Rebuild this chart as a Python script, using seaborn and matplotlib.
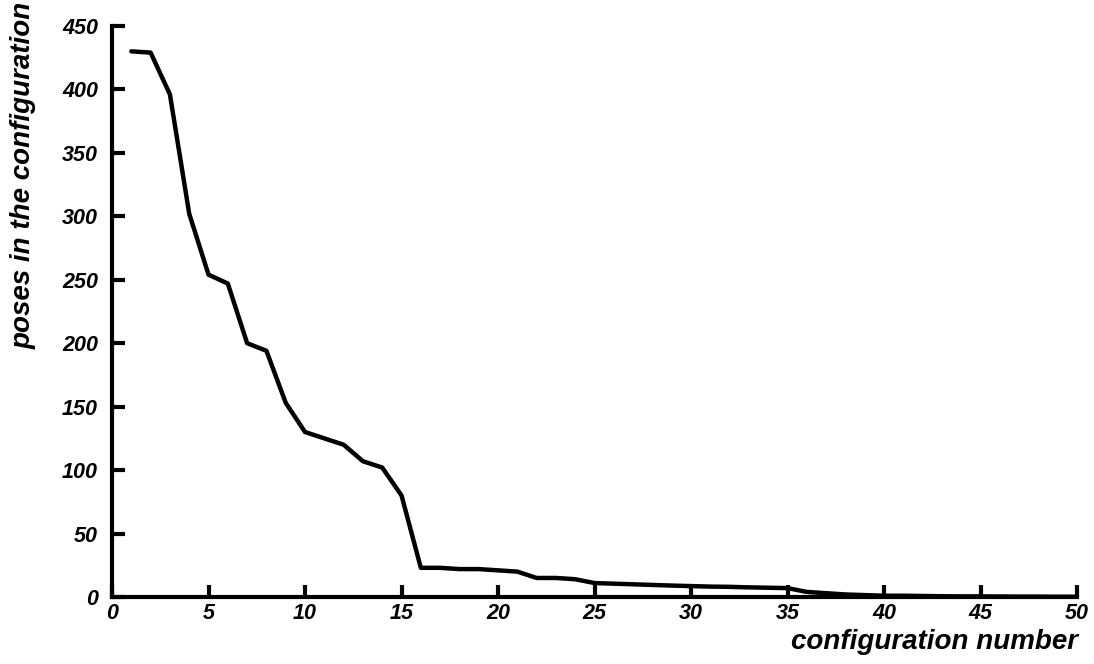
import matplotlib
matplotlib.use("Agg")
import matplotlib.pyplot as plt
import seaborn as sns
import pandas as pd

config_number = list(range(1, 51))
poses = [430, 429, 396, 302, 254, 247, 200, 194, 153, 130,
         125, 120, 107, 102, 80, 23, 23, 22, 22, 21,
         20, 15, 15, 14, 11, 10.5, 10, 9.5, 9, 8.6,
         8.2, 8, 7.6, 7.3, 7, 4, 3, 2, 1.5, 1,
         1, 0.8, 0.6, 0.5, 0.5, 0.4, 0.3, 0.3, 0.2, 0.2]
x_ticks = [0, 5, 10, 15, 20, 25, 30, 35, 40, 45, 50]
y_ticks = [0, 50, 100, 150, 200, 250, 300, 350, 400, 450]

sns.set_style("white", {"xtick.bottom": True, "ytick.left": True,
                        "text.color": "black", "xtick.color": "black",
                        "ytick.color": "black", "axes.labelcolor": "black"})
plt.rcParams['font.family'] = ['Liberation Sans', 'DejaVu Sans']

df = pd.DataFrame({"config": config_number, "poses": poses})

fig = plt.figure(figsize=(10.94, 6.64), dpi=100)
ax = fig.add_axes([0.1024, 0.1009, 0.8821, 0.8600])
sns.lineplot(data=df, x="config", y="poses", ax=ax, color="black", linewidth=3.2)

ax.set_xlim(0, 50)
ax.set_ylim(0, 450)
ax.set_xticks(x_ticks)
ax.set_yticks(y_ticks)
ax.set_xticklabels([str(t) for t in x_ticks], fontsize=15.5, fontweight='bold', fontstyle='italic')
ax.set_yticklabels([str(t) for t in y_ticks], fontsize=15.5, fontweight='bold', fontstyle='italic')
ax.tick_params(direction='in', length=9, width=3, color='black', labelcolor='black')
ax.tick_params(axis='y', pad=10)
ax.tick_params(axis='x', pad=4)

for s in ['top', 'right']:
    ax.spines[s].set_visible(False)
for s in ['left', 'bottom']:
    ax.spines[s].set_linewidth(3)
    ax.spines[s].set_color('black')

ax.set_xlabel("")
ax.set_ylabel("")
fig.text(0.985, 0.022, "configuration number", ha='right', va='baseline',
         fontsize=20, fontweight='bold', fontstyle='italic', color='black')
fig.text(0.022, 0.998, "poses in the configuration", ha='center', va='top', rotation=90,
         fontsize=20, fontweight='bold', fontstyle='italic', color='black')

fig.savefig("out.png", dpi=100, facecolor='white')
